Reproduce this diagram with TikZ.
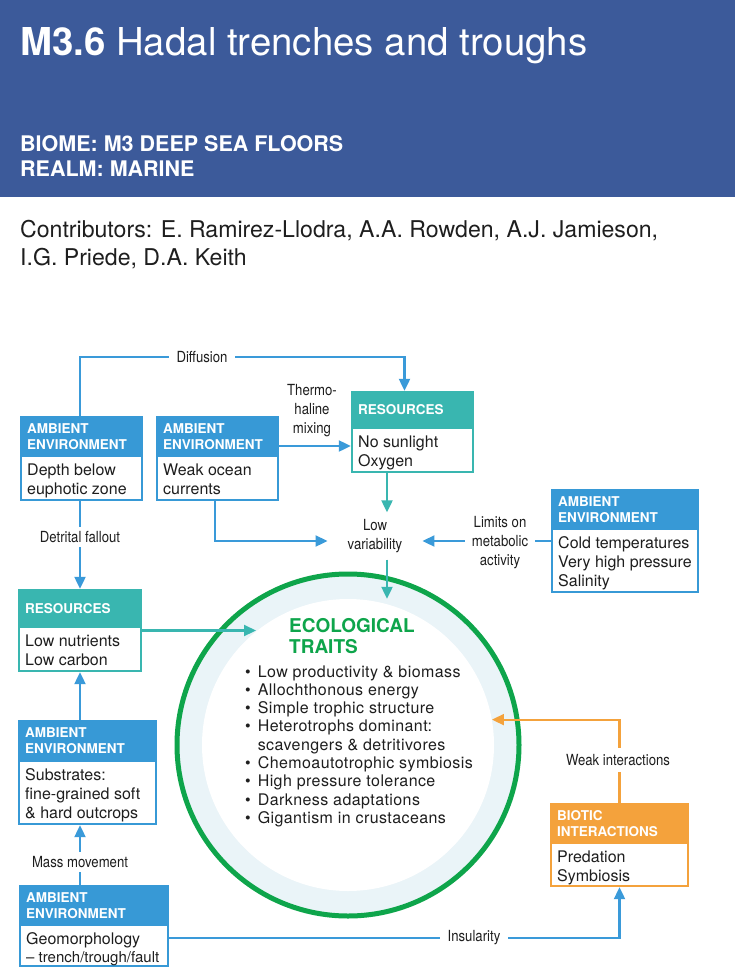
\documentclass[tikz,border=0pt]{standalone}
\usepackage{fontspec}
\setmainfont{TeX Gyre Heros}
\newfontfamily\condfont{TeX Gyre Heros}[FakeStretch=0.86]
\newfontfamily\listfont{TeX Gyre Heros}[LetterSpace=2.6]
\usetikzlibrary{arrows.meta,fit,calc}
\definecolor{hdrblue}{HTML}{3C5A9A}
\definecolor{aeblue}{HTML}{3799D6}
\definecolor{resteal}{HTML}{39B6B0}
\definecolor{bioorange}{HTML}{F4A23C}
\definecolor{ecogreen}{HTML}{0EA54B}
\definecolor{ringfill}{HTML}{EAF4F8}
\definecolor{arrblue}{HTML}{3A9AD9}
\definecolor{txt}{HTML}{1E1E1E}
\tikzset{
  hdtxt/.style={text=white, font=\fontsize{13.5}{16}\bfseries\selectfont, align=left, inner sep=0, anchor=west},
  bodytxt/.style={text=txt, font=\fontsize{16}{19}\selectfont, align=left, inner sep=0, anchor=north west},
  lbl/.style={text=txt, font=\condfont\fontsize{15.3}{19}\selectfont, align=center, inner sep=0},
  lblw/.style={lbl, fill=white, inner xsep=8pt, inner ysep=2pt},
  conn/.style={line width=2.2pt, -{Triangle[length=12pt,width=11pt]}},
  bluearr/.style={conn, draw=arrblue},
  tealarr/.style={conn, draw=resteal},
  orarr/.style={conn, draw=bioorange},
}
% name, x1, top, header bottom, x2, bottom, colour, header, body
\newcommand{\ebox}[9]{%
  \node[fit={(#2,#3) (#5,#6)}, inner sep=0, fill=#7] (#1) {};
  \fill[white] (#2+2,#4) rectangle (#5-2,#6-2);
  \node[hdtxt] at (#2+7,{(#3+#4)/2}) {#8};
  \node[bodytxt] at (#2+7,#4+6.5) {#9};
}
\begin{document}
\begin{tikzpicture}[x=1pt,y=-1pt]
\fill[white] (0,0) rectangle (735,979);
\useasboundingbox (0,0) rectangle (735,979);
% header band
\fill[hdrblue] (0,0) rectangle (735,197);
\node[anchor=base west, inner sep=0, text=white, font=\fontsize{38.4}{40}\selectfont] (title) at (20,56) {\textbf{M3.6} Hadal trenches and troughs};
\node[anchor=base west, inner sep=0, text=white, font=\fontsize{21.5}{24}\bfseries\selectfont] (biome) at (20,151) {BIOME: M3 DEEP SEA FLOORS};
\node[anchor=base west, inner sep=0, text=white, font=\fontsize{21.5}{24}\bfseries\selectfont] (realm) at (20,176) {REALM: MARINE};
\node[anchor=base west, inner sep=0, text=txt, font=\fontsize{23.1}{26}\selectfont] (contrib1) at (20,237) {Contributors: E. Ramirez-Llodra, A.A. Rowden, A.J. Jamieson,};
\node[anchor=base west, inner sep=0, text=txt, font=\fontsize{23.1}{26}\selectfont] (contrib2) at (20,265) {I.G. Priede, D.A. Keith};

% central circle
\node[circle, draw=ecogreen, line width=5pt, fill=ringfill, minimum size=342pt, inner sep=0] (eco) at (348,745) {};
\node[circle, fill=white, minimum size=292pt, inner sep=0] (ecoin) at (348,745) {};
\node[anchor=north west, inner sep=0, text=ecogreen, align=left, font=\fontsize{19}{21}\bfseries\selectfont] (ecotitle) at (289,618) {ECOLOGICAL\\TRAITS};
\node[anchor=north west, inner sep=0, text=txt, font=\listfont\fontsize{16}{18.3}\selectfont] (ecolist) at (245,664) {%
\begin{tabular}{@{}l@{\hspace{7pt}}l@{}}
•&Low productivity \& biomass\\
•&Allochthonous energy\\
•&Simple trophic structure\\
•&Heterotrophs dominant:\\
&scavengers \& detritivores\\
•&Chemoautotrophic symbiosis\\
•&High pressure tolerance\\
•&Darkness adaptations\\
•&Gigantism in crustaceans
\end{tabular}};

% boxes
\ebox{ae1}{20}{416}{457}{143}{501}{aeblue}{AMBIENT\\ENVIRONMENT}{Depth below\\euphotic zone}
\ebox{ae2}{156}{416}{457}{279}{501}{aeblue}{AMBIENT\\ENVIRONMENT}{Weak ocean\\currents}
\ebox{res1}{351}{391}{429}{474}{473}{resteal}{RESOURCES}{No sunlight\\Oxygen}
\ebox{aer}{551}{489}{530}{699}{593}{aeblue}{AMBIENT\\ENVIRONMENT}{Cold temperatures\\Very high pressure\\Salinity}
\ebox{res2}{18}{589}{628}{142}{672}{resteal}{RESOURCES}{Low nutrients\\Low carbon}
\ebox{aes}{18}{720}{762}{157}{825}{aeblue}{AMBIENT\\ENVIRONMENT}{Substrates:\\fine-grained soft\\\& hard outcrops}
\ebox{bio}{550}{803}{844}{689}{887}{bioorange}{BIOTIC\\INTERACTIONS}{Predation\\Symbiosis}
\ebox{aeg}{19}{885}{926}{169}{967}{aeblue}{AMBIENT\\ENVIRONMENT}{Geomorphology\\[-1pt]{\fontsize{15}{18}\selectfont – trench/trough/fault}}

% low variability hub
\node[lbl, font=\condfont\fontsize{15.3}{18.5}\selectfont, inner xsep=20pt, inner ysep=7pt] (lowvar) at (375,536) {Low\\variability};

% helper coordinates
\coordinate (lx) at (80,0);
\coordinate (ax) at (387,0);
\coordinate (dy) at (0,357);
\coordinate (iy) at (0,938);

% connectors
\draw[bluearr] (lx |- ae1.north) -- (lx |- dy) -| ([xshift=-8pt]res1.north);
\node[lblw] (lbdiff) at (202,357) {Diffusion};

\draw[bluearr] ([yshift=12.5pt]ae2.east) -- ([yshift=12.5pt]ae2.east -| res1.west);
\node[lbl] (lbthermo) at (312,411) {Thermo-\\haline\\mixing};

\draw[tealarr] (ax |- res1.south) -- (ax |- lowvar.north);
\draw[tealarr] (ax |- lowvar.south) -- (ax |- ecoin.north);

\draw[bluearr] ([xshift=-2.5pt]ae2.south) |- ([yshift=-5pt]lowvar.west);
\draw[bluearr] (aer.west) -- ([yshift=-5pt]lowvar.east);
\node[lblw, inner xsep=7pt] (lblimits) at (500,543) {Limits on\\metabolic\\activity};

\draw[bluearr] (lx |- ae1.south) -- (lx |- res2.north);
\node[lblw, inner ysep=4pt] (lbdet) at (80,537) {Detrital fallout};

\draw[tealarr] (res2.east) -- (res2.east -| ecoin.129);

\draw[bluearr] (lx |- aes.north) -- (lx |- res2.south);

\draw[bluearr] (lx |- aeg.north) -- (lx |- aes.south);
\node[lblw, inner ysep=4pt] (lbmass) at (80,862) {Mass movement};

\draw[orarr] (bio.north) |- (ecoin.10);
\node[lblw, inner ysep=6pt] (lbweak) at (618,760) {Weak interactions};

\draw[bluearr] (aeg.east |- iy) -| (bio.south);
\node[lblw] (lbins) at (474,938) {Insularity};
\end{tikzpicture}
\end{document}
